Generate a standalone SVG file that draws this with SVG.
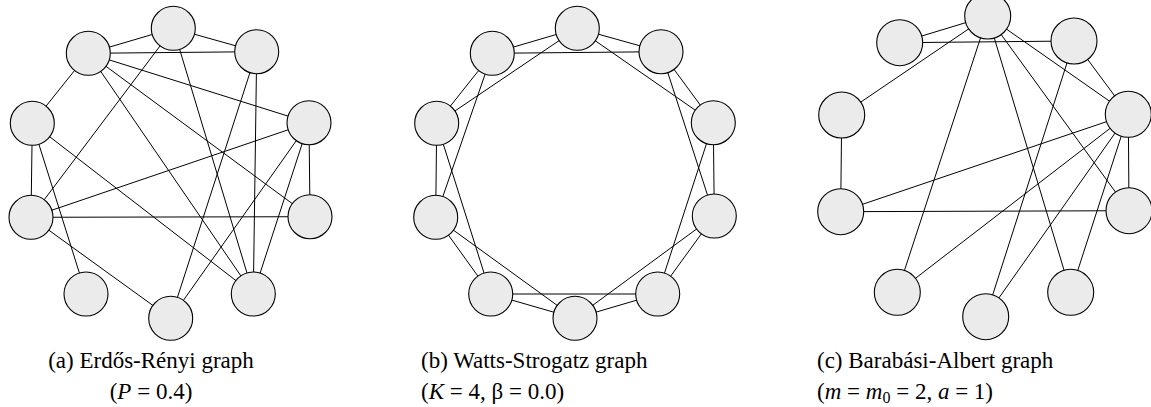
<svg xmlns="http://www.w3.org/2000/svg" width="1151" height="407" viewBox="0 0 1151 407">
<style>
.e{stroke:#000;stroke-width:1;fill:none}
.n circle{fill:#ebebeb;stroke:#000;stroke-width:1.1}
.cap{font-family:"Liberation Serif","Times New Roman",serif;font-size:23px;fill:#000}
.it{font-style:italic}
</style>
<rect width="1151" height="407" fill="#fff"/>
<g id="connectors">
<g id="edges-a">
<line class="e" x1="173.3" y1="28.3" x2="88.3" y2="53.3"/>
<line class="e" x1="173.3" y1="28.3" x2="256.7" y2="51.7"/>
<line class="e" x1="88.3" y1="53.3" x2="256.7" y2="51.7"/>
<line class="e" x1="88.3" y1="53.3" x2="32.3" y2="123.3"/>
<line class="e" x1="88.3" y1="53.3" x2="309" y2="122.7"/>
<line class="e" x1="88.3" y1="53.3" x2="253.3" y2="294"/>
<line class="e" x1="88.3" y1="53.3" x2="310" y2="216.7"/>
<line class="e" x1="173.3" y1="28.3" x2="31" y2="217.3"/>
<line class="e" x1="173.3" y1="28.3" x2="253.3" y2="294"/>
<line class="e" x1="256.7" y1="51.7" x2="170.7" y2="318.3"/>
<line class="e" x1="256.7" y1="51.7" x2="253.3" y2="294"/>
<line class="e" x1="32.3" y1="123.3" x2="31" y2="217.3"/>
<line class="e" x1="32.3" y1="123.3" x2="86" y2="294"/>
<line class="e" x1="32.3" y1="123.3" x2="253.3" y2="294"/>
<line class="e" x1="31" y1="217.3" x2="309" y2="122.7"/>
<line class="e" x1="31" y1="217.3" x2="310" y2="216.7"/>
<line class="e" x1="31" y1="217.3" x2="170.7" y2="318.3"/>
<line class="e" x1="309" y1="122.7" x2="310" y2="216.7"/>
<line class="e" x1="309" y1="122.7" x2="170.7" y2="318.3"/>
<line class="e" x1="309" y1="122.7" x2="253.3" y2="294"/>
</g>
<g id="edges-b">
<line class="e" x1="577.3" y1="28.3" x2="661" y2="51.7"/>
<line class="e" x1="577.3" y1="28.3" x2="713.3" y2="122.7"/>
<line class="e" x1="661" y1="51.7" x2="713.3" y2="122.7"/>
<line class="e" x1="661" y1="51.7" x2="714.3" y2="216"/>
<line class="e" x1="713.3" y1="122.7" x2="714.3" y2="216"/>
<line class="e" x1="713.3" y1="122.7" x2="657.7" y2="294"/>
<line class="e" x1="714.3" y1="216" x2="657.7" y2="294"/>
<line class="e" x1="714.3" y1="216" x2="575" y2="318.3"/>
<line class="e" x1="657.7" y1="294" x2="575" y2="318.3"/>
<line class="e" x1="657.7" y1="294" x2="490.7" y2="294"/>
<line class="e" x1="575" y1="318.3" x2="490.7" y2="294"/>
<line class="e" x1="575" y1="318.3" x2="435.7" y2="217.3"/>
<line class="e" x1="490.7" y1="294" x2="435.7" y2="217.3"/>
<line class="e" x1="490.7" y1="294" x2="436.7" y2="123.3"/>
<line class="e" x1="435.7" y1="217.3" x2="436.7" y2="123.3"/>
<line class="e" x1="435.7" y1="217.3" x2="492.3" y2="53.3"/>
<line class="e" x1="436.7" y1="123.3" x2="492.3" y2="53.3"/>
<line class="e" x1="436.7" y1="123.3" x2="577.3" y2="28.3"/>
<line class="e" x1="492.3" y1="53.3" x2="577.3" y2="28.3"/>
<line class="e" x1="492.3" y1="53.3" x2="661" y2="51.7"/>
</g>
<g id="edges-c">
<line class="e" x1="987.7" y1="16" x2="899.7" y2="42.7"/>
<line class="e" x1="899.7" y1="42.7" x2="1074" y2="41"/>
<line class="e" x1="987.7" y1="16" x2="841.7" y2="115"/>
<line class="e" x1="987.7" y1="16" x2="897.3" y2="292.3"/>
<line class="e" x1="987.7" y1="16" x2="1070.7" y2="292.3"/>
<line class="e" x1="987.7" y1="16" x2="1129" y2="210.7"/>
<line class="e" x1="987.7" y1="16" x2="1128.3" y2="114.3"/>
<line class="e" x1="1074" y1="41" x2="1128.3" y2="114.3"/>
<line class="e" x1="1074" y1="41" x2="985.7" y2="316.7"/>
<line class="e" x1="841.7" y1="115" x2="840.7" y2="211.7"/>
<line class="e" x1="840.7" y1="211.7" x2="1128.3" y2="114.3"/>
<line class="e" x1="840.7" y1="211.7" x2="1129" y2="210.7"/>
<line class="e" x1="1128.3" y1="114.3" x2="1129" y2="210.7"/>
<line class="e" x1="1128.3" y1="114.3" x2="897.3" y2="292.3"/>
<line class="e" x1="1128.3" y1="114.3" x2="985.7" y2="316.7"/>
<line class="e" x1="1128.3" y1="114.3" x2="1070.7" y2="292.3"/>
</g>
</g>
<g id="graph-a" class="n">
<g id="a1"><circle cx="173.3" cy="28.3" r="22"/></g>
<g id="a2"><circle cx="88.3" cy="53.3" r="22"/></g>
<g id="a3"><circle cx="256.7" cy="51.7" r="22"/></g>
<g id="a4"><circle cx="32.3" cy="123.3" r="22"/></g>
<g id="a5"><circle cx="309" cy="122.7" r="22"/></g>
<g id="a6"><circle cx="31" cy="217.3" r="22"/></g>
<g id="a7"><circle cx="310" cy="216.7" r="22"/></g>
<g id="a8"><circle cx="86" cy="294" r="22"/></g>
<g id="a9"><circle cx="253.3" cy="294" r="22"/></g>
<g id="a10"><circle cx="170.7" cy="318.3" r="22"/></g>
</g>
<g id="graph-b" class="n">
<g id="b1"><circle cx="577.3" cy="28.3" r="22"/></g>
<g id="b2"><circle cx="661" cy="51.7" r="22"/></g>
<g id="b3"><circle cx="713.3" cy="122.7" r="22"/></g>
<g id="b4"><circle cx="714.3" cy="216" r="22"/></g>
<g id="b5"><circle cx="657.7" cy="294" r="22"/></g>
<g id="b6"><circle cx="575" cy="318.3" r="22"/></g>
<g id="b7"><circle cx="490.7" cy="294" r="22"/></g>
<g id="b8"><circle cx="435.7" cy="217.3" r="22"/></g>
<g id="b9"><circle cx="436.7" cy="123.3" r="22"/></g>
<g id="b10"><circle cx="492.3" cy="53.3" r="22"/></g>
</g>
<g id="graph-c" class="n">
<g id="c1"><circle cx="987.7" cy="16" r="23"/></g>
<g id="c2"><circle cx="899.7" cy="42.7" r="23"/></g>
<g id="c3"><circle cx="1074" cy="41" r="23"/></g>
<g id="c4"><circle cx="841.7" cy="115" r="23"/></g>
<g id="c5"><circle cx="1128.3" cy="114.3" r="23"/></g>
<g id="c6"><circle cx="840.7" cy="211.7" r="23"/></g>
<g id="c7"><circle cx="1129" cy="210.7" r="23"/></g>
<g id="c8"><circle cx="897.3" cy="292.3" r="23"/></g>
<g id="c9"><circle cx="1070.7" cy="292.3" r="23"/></g>
<g id="c10"><circle cx="985.7" cy="316.7" r="23"/></g>
</g>
<g id="captions">
<text class="cap" x="151" y="368" text-anchor="middle">(a) Erdős-Rényi graph</text>
<text class="cap" x="151" y="399" text-anchor="middle">(<tspan class="it">P</tspan> = 0.4)</text>
<text class="cap" x="421" y="368">(b) Watts-Strogatz graph</text>
<text class="cap" x="421" y="399">(<tspan class="it">K</tspan> = 4, β = 0.0)</text>
<text class="cap" x="817" y="368">(c) Barabási-Albert graph</text>
<text class="cap" x="817" y="399">(<tspan class="it">m</tspan> = <tspan class="it">m</tspan><tspan font-size="16" dy="4">0</tspan><tspan dy="-4"> = 2, </tspan><tspan class="it">a</tspan> = 1)</text>
</g>
</svg>
